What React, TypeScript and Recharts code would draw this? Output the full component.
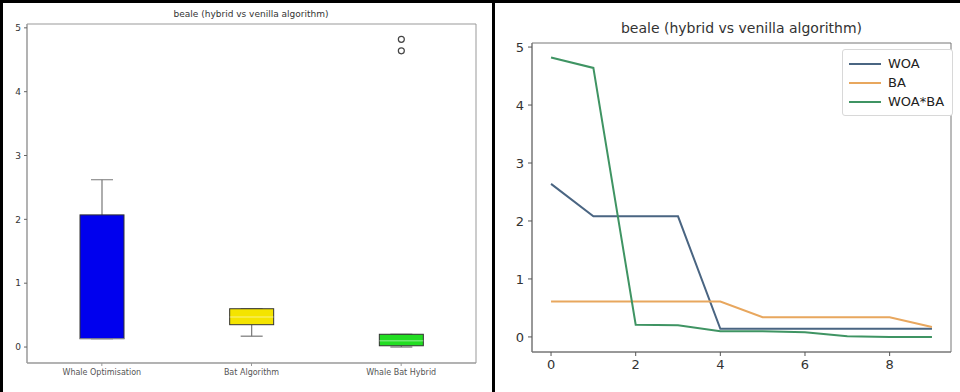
import { Bar, ComposedChart, Line, LineChart, ReferenceArea, XAxis, YAxis } from "recharts";

const chartTitle = "beale (hybrid vs venilla algorithm)";

// box plot (left)
const algorithms = ["Whale Optimisation", "Bat Algorithm", "Whale Bat Hybrid"];
const whiskerLow = [0.13, 0.17, 0.0];
const boxLow = [0.13, 0.35, 0.02];
const medians = [0.13, 0.47, 0.1];
const boxHigh = [2.07, 0.6, 0.2];
const whiskerHigh = [2.62, 0.6, 0.2];
const outliers = [[], [], [4.64, 4.82]];
const boxColors = ["#0000ee", "#f4e400", "#22dd22"];

// convergence lines (right)
const iterations = [0, 1, 2, 3, 4, 5, 6, 7, 8, 9];
const woa = [2.64, 2.08, 2.08, 2.08, 0.14, 0.14, 0.14, 0.14, 0.14, 0.14];
const ba = [0.61, 0.61, 0.61, 0.61, 0.61, 0.34, 0.34, 0.34, 0.34, 0.17];
const woaBa = [4.82, 4.64, 0.21, 0.2, 0.1, 0.1, 0.08, 0.01, 0.0, 0.0];

const yTicks = [0, 1, 2, 3, 4, 5];
const xTicks = [0, 2, 4, 6, 8];

const boxDomain: [number, number] = [-0.25, 5.06];
const lineYDomain: [number, number] = [-0.26, 5.07];
const lineXDomain: [number, number] = [-0.45, 9.45];

const font = "DejaVu Sans";

const boxData = algorithms.map((name, i) => ({
  name,
  range: [whiskerLow[i], whiskerHigh[i]],
  q1: boxLow[i],
  med: medians[i],
  q3: boxHigh[i],
  out: outliers[i],
  color: boxColors[i],
}));

const lineData = iterations.map((it, i) => ({ it, WOA: woa[i], BA: ba[i], "WOA*BA": woaBa[i] }));

const series = [
  { key: "WOA", color: "#4a6582" },
  { key: "BA", color: "#e8a75e" },
  { key: "WOA*BA", color: "#3f9463" },
];

function BoxShape(props: any) {
  const { x, width, payload } = props;
  const top = Math.min(props.y, props.y + props.height);
  const h = Math.abs(props.height);
  const lo = payload.range[0];
  const hi = payload.range[1];
  const k = h / (hi - lo);
  const py = (v: number) => top + h - (v - lo) * k;
  const cx = x + width / 2;
  const cap = width * 0.25;
  return (
    <g>
      <line x1={cx} x2={cx} y1={py(payload.range[1])} y2={py(payload.q3)} stroke="#777" strokeWidth={1.2} />
      <line x1={cx} x2={cx} y1={py(payload.q1)} y2={py(payload.range[0])} stroke="#777" strokeWidth={1.2} />
      <line x1={cx - cap} x2={cx + cap} y1={py(payload.range[1])} y2={py(payload.range[1])} stroke="#777" strokeWidth={1.2} />
      <line x1={cx - cap} x2={cx + cap} y1={py(payload.range[0])} y2={py(payload.range[0])} stroke="#777" strokeWidth={1.2} />
      <rect x={x} y={py(payload.q3)} width={width} height={py(payload.q1) - py(payload.q3)} fill={payload.color} stroke="#333" strokeWidth={1} />
      <line x1={x} x2={x + width} y1={py(payload.med)} y2={py(payload.med)} stroke="rgba(255,255,255,0.35)" strokeWidth={1.5} />
      {payload.out.map((v: number, j: number) => (
        <circle key={j} cx={cx} cy={py(v)} r={3} fill="none" stroke="#444" strokeWidth={1.2} />
      ))}
    </g>
  );
}

function LegendBox() {
  return (
    <div style={{ border: "1px solid #d8d8d8", borderRadius: 3, background: "#fff", padding: "4px 8px 4px 6px", fontFamily: font, fontSize: 13, color: "#222" }}>
      {series.map((s) => (
        <div key={s.key} style={{ display: "flex", alignItems: "center", height: 19 }}>
          <svg width={32} height={4} style={{ marginRight: 7 }}>
            <line x1={0} x2={32} y1={2} y2={2} stroke={s.color} strokeWidth={2} />
          </svg>
          <span>{s.key}</span>
        </div>
      ))}
    </div>
  );
}

export default function App() {
  return (
    <div style={{ position: "absolute", left: 0, top: 0, width: 960, height: 392, background: "#fff", fontFamily: font, overflow: "hidden" }}>
      <div style={{ position: "absolute", left: 0, top: 0, width: 960, height: 3, background: "#000" }} />
      <div style={{ position: "absolute", left: 0, top: 0, width: 3, height: 392, background: "#000" }} />
      <div style={{ position: "absolute", left: 492, top: 0, width: 3, height: 392, background: "#000" }} />

      <div style={{ position: "absolute", left: 0, top: 9, width: 502, textAlign: "center", fontSize: 9, color: "#333" }}>{chartTitle}</div>
      <div style={{ position: "absolute", left: 0, top: 0 }}>
        <ComposedChart width={480} height={392} data={boxData} margin={{ top: 24, right: 4, bottom: 9, left: 3 }}>
          <XAxis dataKey="name" tick={{ fontSize: 8, fill: "#555", fontFamily: font }} tickSize={3} tickMargin={3} height={20} axisLine={{ stroke: "#999" }} tickLine={{ stroke: "#999" }} interval={0} />
          <YAxis type="number" domain={boxDomain} ticks={yTicks} width={24} tick={{ fontSize: 9, fill: "#333", fontFamily: font }} tickSize={3} tickMargin={3} axisLine={{ stroke: "#999" }} tickLine={{ stroke: "#666" }} allowDataOverflow />
          <ReferenceArea y1={boxDomain[0]} y2={boxDomain[1]} fill="none" stroke="#999" strokeWidth={1} />
          <Bar dataKey="range" barSize={44} shape={BoxShape} isAnimationActive={false} />
        </ComposedChart>
      </div>

      <div style={{ position: "absolute", left: 495, top: 20, width: 493, textAlign: "center", fontSize: 14, color: "#333" }}>{chartTitle}</div>
      <div style={{ position: "absolute", left: 495, top: 0 }}>
        <LineChart width={465} height={392} data={lineData} margin={{ top: 43, right: 9, bottom: 10, left: 7 }}>
          <XAxis dataKey="it" type="number" domain={lineXDomain} ticks={xTicks} height={30} tick={{ fontSize: 13, fill: "#333", fontFamily: font }} tickSize={4} tickMargin={4} axisLine={{ stroke: "#777" }} tickLine={{ stroke: "#555" }} allowDataOverflow />
          <YAxis type="number" domain={lineYDomain} ticks={yTicks} width={30} tick={{ fontSize: 13, fill: "#333", fontFamily: font }} tickSize={4} tickMargin={4} axisLine={{ stroke: "#777" }} tickLine={{ stroke: "#555" }} allowDataOverflow />
          <ReferenceArea y1={lineYDomain[0]} y2={lineYDomain[1]} fill="none" stroke="#777" strokeWidth={1} />
          {series.map((s) => (
            <Line key={s.key} dataKey={s.key} stroke={s.color} strokeWidth={2} dot={false} isAnimationActive={false} />
          ))}
        </LineChart>
      </div>
      <div style={{ position: "absolute", left: 842, top: 49 }}>
        <LegendBox />
      </div>
    </div>
  );
}
